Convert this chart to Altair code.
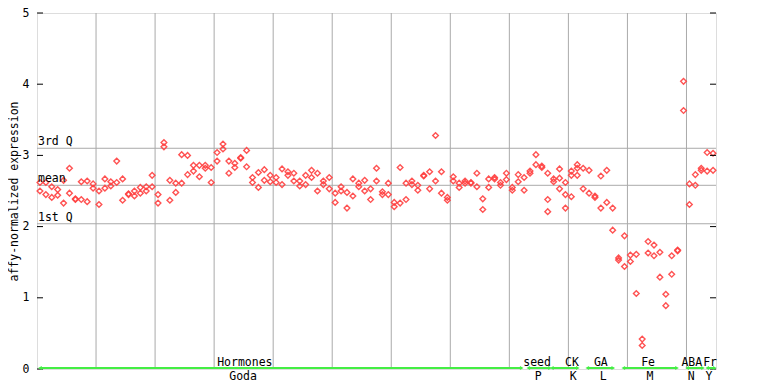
import altair as alt
import pandas as pd

# expression values per sample column (index 0..114); two replicates each, plus a few third points
values_a = [2.62, 2.62, 2.56, 2.52, 2.65, 2.82, 2.39, 2.63, 2.64, 2.60,
            2.50, 2.67, 2.63, 2.92, 2.67, 2.46, 2.50, 2.55, 2.56, 2.72,
            2.45, 3.18, 2.65, 2.61, 3.01, 3.00, 2.86, 2.86, 2.86, 2.83,
            3.04, 3.16, 2.92, 2.89, 2.97, 3.07, 2.69, 2.76, 2.80, 2.72,
            2.69, 2.81, 2.77, 2.75, 2.64, 2.72, 2.79, 2.75, 2.64, 2.69,
            2.47, 2.56, 2.48, 2.67, 2.61, 2.65, 2.53, 2.82, 2.49, 2.61,
            2.34, 2.83, 2.61, 2.64, 2.58, 2.72, 2.77, 3.28, 2.77, 2.41,
            2.70, 2.61, 2.64, 2.62, 2.75, 2.39, 2.67, 2.69, 2.62, 2.75,
            2.55, 2.73, 2.69, 2.78, 3.01, 2.85, 2.75, 2.67, 2.81, 2.62,
            2.78, 2.87, 2.82, 2.79, 2.43, 2.71, 2.79, 2.26, 1.56, 1.87,
            1.60, 1.61, 0.42, 1.79, 1.74, 1.64, 1.05, 1.59, 1.67, 4.04,
            2.60, 2.73, 2.82, 3.04, 3.03]
values_b = [2.50, 2.45, 2.41, 2.44, 2.33, 2.47, 2.38, 2.38, 2.35, 2.54,
            2.31, 2.54, 2.57, 2.62, 2.37, 2.45, 2.43, 2.47, 2.50, 2.56,
            2.33, 3.12, 2.37, 2.48, 2.61, 2.73, 2.78, 2.70, 2.82, 2.62,
            2.92, 3.09, 2.75, 2.83, 2.96, 2.84, 2.62, 2.55, 2.65, 2.63,
            2.62, 2.59, 2.72, 2.64, 2.57, 2.59, 2.69, 2.50, 2.59, 2.53,
            2.34, 2.50, 2.26, 2.43, 2.56, 2.50, 2.38, 2.64, 2.45, 2.45,
            2.28, 2.33, 2.38, 2.59, 2.51, 2.71, 2.53, 2.64, 2.47, 2.37,
            2.64, 2.55, 2.61, 2.61, 2.56, 2.24, 2.55, 2.67, 2.58, 2.66,
            2.51, 2.63, 2.51, 2.75, 2.87, 2.83, 2.38, 2.63, 2.68, 2.45,
            2.72, 2.82, 2.53, 2.47, 2.41, 2.26, 2.34, 1.95, 1.53, 1.44,
            1.51, 1.06, 0.33, 1.63, 1.59, 1.29, 0.89, 1.33, 1.66, 3.63,
            2.31, 2.58, 2.79, 2.78, 2.79]
extra_idx = [86, 88, 89, 90, 91]
extra_val = [2.21, 2.53, 2.26, 2.42, 2.72]

# quartile reference lines
ref_names = ["3rd Q", "mean", "1st Q"]
ref_values = [3.10, 2.58, 2.04]

# sample-group segments (upper label, lower label, start, end, label centre)
group_top = ["Hormones", "seed", "CK", "GA", "Fe", "ABA", "Fr"]
group_bottom = ["Goda", "P", "K", "L", "M", "N", "Y"]
group_start = [0.5, 83.2, 87.2, 93.2, 99.3, 110.1, 113.5]
group_end = [82.1, 86.9, 91.6, 97.6, 108.4, 112.8, 114.8]
top_pos = [35.2, 84.7, 90.6, 95.5, 103.5, 110.9, 114.0]
bottom_pos = [34.9, 84.9, 90.8, 95.9, 103.8, 110.8, 113.8]

grid_x = [10, 20, 30, 40, 50, 60, 70, 80, 90, 100, 110]
y_ticks = [0, 1, 2, 3, 4, 5]

FONT = "DejaVu Sans Mono"
FS = 11.5

rows = []
for i, (a, b) in enumerate(zip(values_a, values_b)):
    rows.append({"x": i + 0.5, "y": a})
    rows.append({"x": i + 0.5, "y": b})
for i, v in zip(extra_idx, extra_val):
    rows.append({"x": i + 0.5, "y": v})
pts = pd.DataFrame(rows)

xs = alt.Scale(domain=[0, 115], nice=False, zero=False)
ys = alt.Scale(domain=[0, 5], nice=False)

grid = alt.Chart(pd.DataFrame({"g": grid_x})).mark_rule(color="#aaaaaa", strokeWidth=1).encode(
    x=alt.X("g:Q", scale=xs, axis=None))

refs = pd.DataFrame({"name": ref_names, "v": ref_values})
ref_lines = alt.Chart(refs).mark_rule(color="#aaaaaa", strokeWidth=1).encode(
    y=alt.Y("v:Q", scale=ys))
ref_text = alt.Chart(refs).mark_text(font=FONT, fontSize=FS, align="left", baseline="alphabetic",
                                     dx=1, dy=-3, color="black").encode(
    x=alt.value(0), y=alt.Y("v:Q", scale=ys), text="name:N")

points = alt.Chart(pts).mark_point(shape="diamond", filled=False, size=32, color="#ff4040",
                                   strokeWidth=1.4, opacity=0.9).encode(
    x=alt.X("x:Q", scale=xs, axis=None),
    y=alt.Y("y:Q", scale=ys, title="affy-normalized expression",
            axis=alt.Axis(values=y_ticks, format="d", grid=False, ticks=False, domain=False,
                          labelFont=FONT, labelFontSize=FS, labelColor="black", labelPadding=8,
                          titleFont=FONT, titleFontSize=FS, titleFontWeight="normal",
                          titleColor="black", titleX=-20, titleY=178, titleAngle=270,
                          titleAlign="center", titleBaseline="alphabetic")))

ticks_df = pd.DataFrame({"t": y_ticks})
left_ticks = alt.Chart(ticks_df).mark_rule(color="black", strokeWidth=1).encode(
    x=alt.value(0), x2=alt.value(6), y=alt.Y("t:Q", scale=ys))
right_ticks = alt.Chart(ticks_df).mark_rule(color="black", strokeWidth=1).encode(
    x=alt.value(673), x2=alt.value(679), y=alt.Y("t:Q", scale=ys))

groups = pd.DataFrame({"top": group_top, "bottom": group_bottom, "s": group_start, "e": group_end,
                       "tp": top_pos, "bp": bottom_pos})
GREEN = "#44ee44"
seg = alt.Chart(groups).mark_rule(color=GREEN, strokeWidth=2).encode(
    x=alt.X("s:Q", scale=xs), x2="e:Q", y=alt.value(355))
arr_l = alt.Chart(groups).mark_point(shape="triangle-left", filled=True, size=18, color=GREEN, opacity=1).encode(
    x=alt.X("s:Q", scale=xs), y=alt.value(355))
arr_r = alt.Chart(groups).mark_point(shape="triangle-right", filled=True, size=18, color=GREEN, opacity=1).encode(
    x=alt.X("e:Q", scale=xs), y=alt.value(355))
top_text = alt.Chart(groups).mark_text(font=FONT, fontSize=FS, baseline="alphabetic", color="black").encode(
    x=alt.X("tp:Q", scale=xs), y=alt.value(353), text="top:N")
bot_text = alt.Chart(groups).mark_text(font=FONT, fontSize=FS, baseline="alphabetic", color="black").encode(
    x=alt.X("bp:Q", scale=xs), y=alt.value(367), text="bottom:N")

chart = alt.layer(grid, ref_lines, points, ref_text, left_ticks, right_ticks,
                  seg, arr_l, arr_r, top_text, bot_text).properties(
    width=679, height=356,
    autosize=alt.AutoSizeParams(type="none"),
    padding={"left": 29, "top": 5, "right": 20, "bottom": 16},
).configure_view(stroke="black", strokeWidth=1).configure(background="white")

chart.save("out.html", embed_options={"renderer": "svg", "actions": False})
